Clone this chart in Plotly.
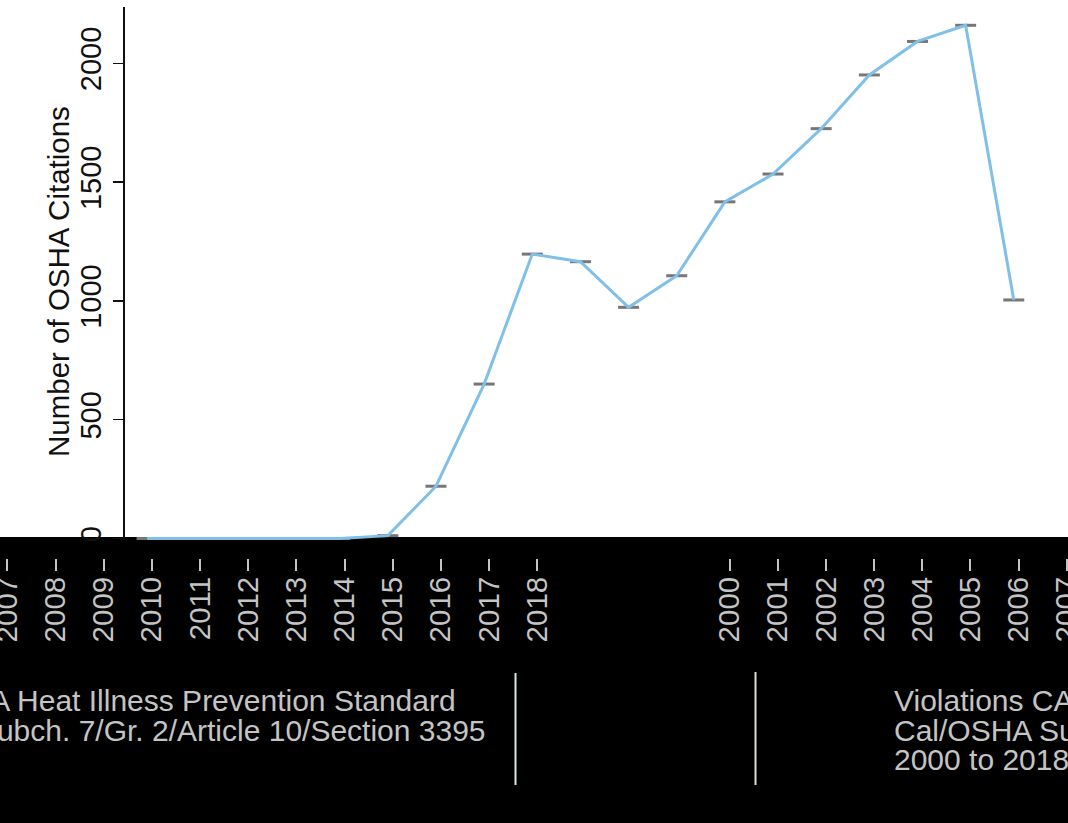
import plotly.graph_objects as go

# ---------------- data ----------------
years = list(range(2000, 2019))
citations = [0, 0, 0, 0, 0, 12, 220, 650, 1197, 1165, 973, 1106,
             1417, 1534, 1725, 1951, 2092, 2160, 1004]

y_tick_vals = [0, 500, 1000, 1500, 2000]
y_tick_text = ["0", "500", "1000", "1500", "2000"]

x_labels_left = ["2007", "2008", "2009", "2010", "2011", "2012",
                 "2013", "2014", "2015", "2016", "2017", "2018"]
x_labels_right = ["2000", "2001", "2002", "2003", "2004", "2005", "2006", "2007"]
x_pos_left = [1997.1, 1998.1, 1999.1, 2000.1, 2001.1, 2002.1,
              2003.1, 2004.1, 2005.1, 2006.1, 2007.1, 2008.1]
x_pos_right = [2012.1, 2013.1, 2014.1, 2015.1, 2016.1, 2017.1, 2018.1, 2019.1]

note_left = ["Cal/OSHA Heat Illness Prevention Standard",
             "Title 8/Subch. 7/Gr. 2/Article 10/Section 3395"]
note_right = ["Violations CA Heat Illness Standard",
              "Cal/OSHA Summary Data",
              "2000 to 2018"]

# ---------------- layout helpers ----------------
W, H = 1068, 823
MT, MB = 7, 265
PH = H - MT - MB


def py(px):
    return (H - MB - px) / PH


def pxx(px):
    return px / W


FONT = "Liberation Sans, Arial, sans-serif"
GREY_TXT = "#c4c4c4"

fig = go.Figure()
fig.add_trace(go.Scatter(
    x=years, y=citations, mode="markers",
    marker=dict(symbol="line-ew", size=15, color="#777777",
                line=dict(width=3, color="#777777")),
    hoverinfo="skip", showlegend=False))
fig.add_trace(go.Scatter(
    x=years, y=citations, mode="lines",
    line=dict(color="#80bfe8", width=3),
    hoverinfo="skip", showlegend=False))

shapes = [
    dict(type="rect", xref="paper", yref="paper", x0=-0.01, x1=1.01,
         y0=py(537), y1=py(823) - 0.01, fillcolor="black", line=dict(width=0),
         layer="below"),
    dict(type="line", xref="paper", yref="paper", x0=pxx(515.5), x1=pxx(515.5),
         y0=py(673), y1=py(785), line=dict(color="#d8e8e8", width=2)),
    dict(type="line", xref="paper", yref="paper", x0=pxx(755.5), x1=pxx(755.5),
         y0=py(672), y1=py(785), line=dict(color="#e0e0d0", width=2)),
]

annotations = [
    dict(text="Number of OSHA Citations", xref="paper", yref="paper",
         x=pxx(58), y=py(282), textangle=-90, showarrow=False,
         xanchor="center", yanchor="middle",
         font=dict(family=FONT, size=29.5, color="#111111")),
]
left_ends = [458, 488]
line_centers = [700, 730, 759]
for i, t in enumerate(note_left):
    annotations.append(dict(text=t, xref="paper", yref="paper",
                            x=pxx(left_ends[i]), y=py(line_centers[i]),
                            xanchor="right", yanchor="middle", showarrow=False,
                            font=dict(family=FONT, size=30, color=GREY_TXT)))
for i, t in enumerate(note_right):
    annotations.append(dict(text=t, xref="paper", yref="paper",
                            x=pxx(892), y=py(line_centers[i]),
                            xanchor="left", yanchor="middle", showarrow=False,
                            font=dict(family=FONT, size=30, color=GREY_TXT)))

fig.update_layout(
    width=W, height=H,
    margin=dict(l=0, r=0, t=MT, b=MB, pad=0, autoexpand=False),
    paper_bgcolor="white",
    plot_bgcolor="rgba(0,0,0,0)",
    font=dict(family=FONT),
    showlegend=False,
    hovermode=False,
    xaxis=dict(domain=[0, 1], anchor="free", position=0, automargin=False,
               range=[1996.945, 2019.126],
               tickmode="array", tickvals=x_pos_left + x_pos_right,
               ticktext=x_labels_left + x_labels_right,
               tickangle=-90, ticks="outside", ticklen=12, tickwidth=2,
               tickcolor=GREY_TXT, ticklabelstandoff=-6,
               ticklabeloverflow="allow",
               tickfont=dict(family=FONT, size=29.5, color=GREY_TXT),
               showline=False, showgrid=False, zeroline=False),
    yaxis=dict(domain=[py(540), 1], anchor="free", position=pxx(123),
               automargin=False,
               range=[-6.3, 2237],
               tickmode="array", tickvals=y_tick_vals, ticktext=y_tick_text,
               tickangle=-90, ticks="outside", ticklen=10, tickwidth=1.5,
               tickcolor="#111111",
               tickfont=dict(family=FONT, size=29, color="#111111"),
               showline=True, linecolor="#111111", linewidth=1.5,
               showgrid=False, zeroline=False),
    shapes=shapes,
    annotations=annotations,
)

fig.write_html("out.html",
               config={"displayModeBar": False, "staticPlot": True},
               post_script="document.body.style.margin='0';"
                           "document.body.style.overflow='hidden';")
